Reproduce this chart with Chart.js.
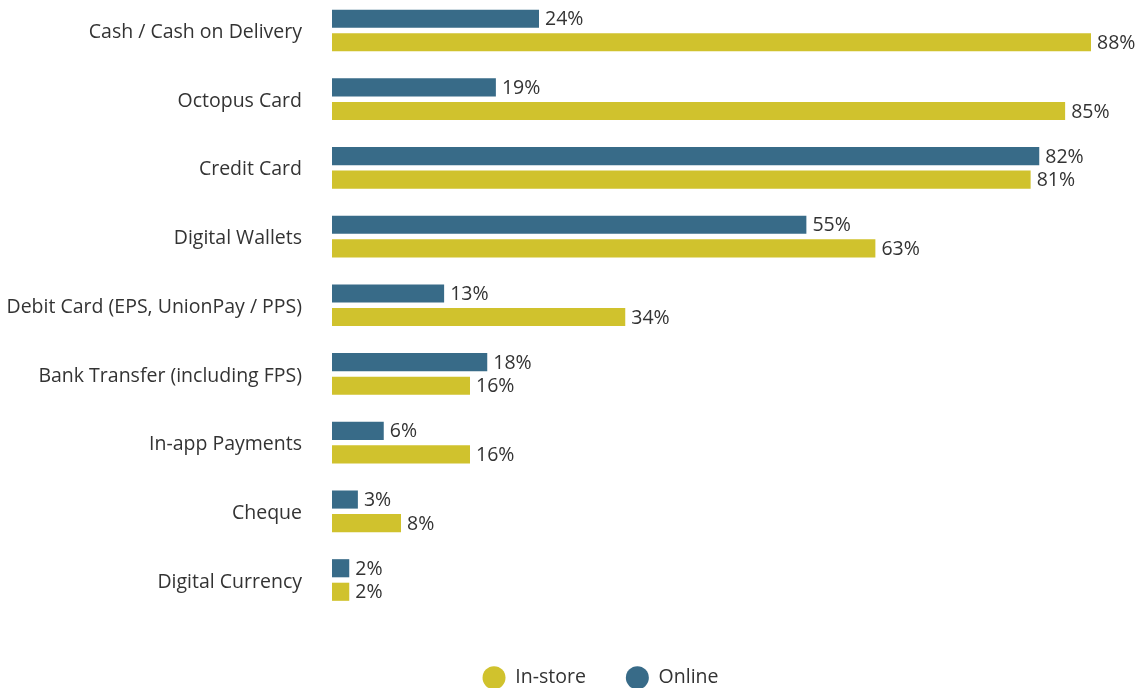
<!DOCTYPE html>
<html>
<head>
<meta charset="utf-8">
<script src="https://cdn.jsdelivr.net/npm/chart.js@4"></script>
<style>
  html, body { margin: 0; padding: 0; background: #fff; }
  #wrap { width: 1138px; height: 688px; }
</style>
</head>
<body>
<div id="wrap"><canvas id="payChart"></canvas></div>
<script>
const categories = [
  "Cash / Cash on Delivery",
  "Octopus Card",
  "Credit Card",
  "Digital Wallets",
  "Debit Card (EPS, UnionPay / PPS)",
  "Bank Transfer (including FPS)",
  "In-app Payments",
  "Cheque",
  "Digital Currency"
];
const onlineValues = [24, 19, 82, 55, 13, 18, 6, 3, 2];
const instoreValues = [88, 85, 81, 63, 34, 16, 16, 8, 2];

const BLUE = "#386b88";
const YELLOW = "#d0c22d";
const TEXT = "#333333";
const FONT = "'Open Sans', 'Noto Sans', sans-serif";

// value labels at the end of each bar
const valueLabels = {
  id: "valueLabels",
  afterDatasetsDraw(chart) {
    const ctx = chart.ctx;
    ctx.save();
    ctx.font = "19.5px " + FONT;
    ctx.fillStyle = TEXT;
    ctx.textAlign = "left";
    ctx.textBaseline = "middle";
    chart.data.datasets.forEach((ds, i) => {
      chart.getDatasetMeta(i).data.forEach((bar, j) => {
        ctx.fillText(ds.data[j] + "%", bar.x + 6, bar.y + 1);
      });
    });
    ctx.restore();
  }
};

// legend needs wide gaps between items but a short box, and sits a bit right of centre
const legendFit = {
  id: "legendFit",
  afterInit(chart) {
    const lg = chart.legend;
    const fit = lg.fit;
    lg.fit = function () {
      fit.call(this);
      this.height = 60;
      if (this.lineWidths && this.lineWidths.length) this.lineWidths[0] -= 110;
    };
  }
};

new Chart(document.getElementById("payChart"), {
  type: "bar",
  data: {
    labels: categories,
    datasets: [
      { label: "Online", data: onlineValues, backgroundColor: BLUE, clip: false },
      { label: "In-store", data: instoreValues, backgroundColor: YELLOW, clip: false }
    ]
  },
  options: {
    indexAxis: "y",
    responsive: true,
    maintainAspectRatio: false,
    animation: false,
    categoryPercentage: 0.685,
    barPercentage: 0.77,
    layout: { padding: { top: 30.5, right: 47, left: 0, bottom: 0 } },
    scales: {
      x: {
        min: 0,
        max: 88,
        ticks: { display: false },
        grid: { display: false, drawTicks: false },
        border: { display: false },
        afterFit(scale) { scale.height = 48; }
      },
      y: {
        offset: false,
        ticks: { color: TEXT, font: { family: FONT, size: 19.5 }, padding: 0, labelOffset: 2 },
        grid: {
          display: true,
          offset: false,
          drawOnChartArea: false,
          drawTicks: true,
          tickLength: 30,
          tickColor: "rgba(0,0,0,0)"
        },
        border: { display: false },
        afterFit(scale) { scale.width = 332; }
      }
    },
    plugins: {
      tooltip: { enabled: false },
      legend: {
        position: "bottom",
        reverse: true,
        labels: {
          usePointStyle: true,
          pointStyle: "circle",
          boxHeight: 16.3,
          pointStyleWidth: 23,
          padding: 40,
          color: TEXT,
          font: { family: FONT, size: 19.5 }
        }
      }
    }
  },
  plugins: [valueLabels, legendFit]
});
</script>
</body>
</html>
